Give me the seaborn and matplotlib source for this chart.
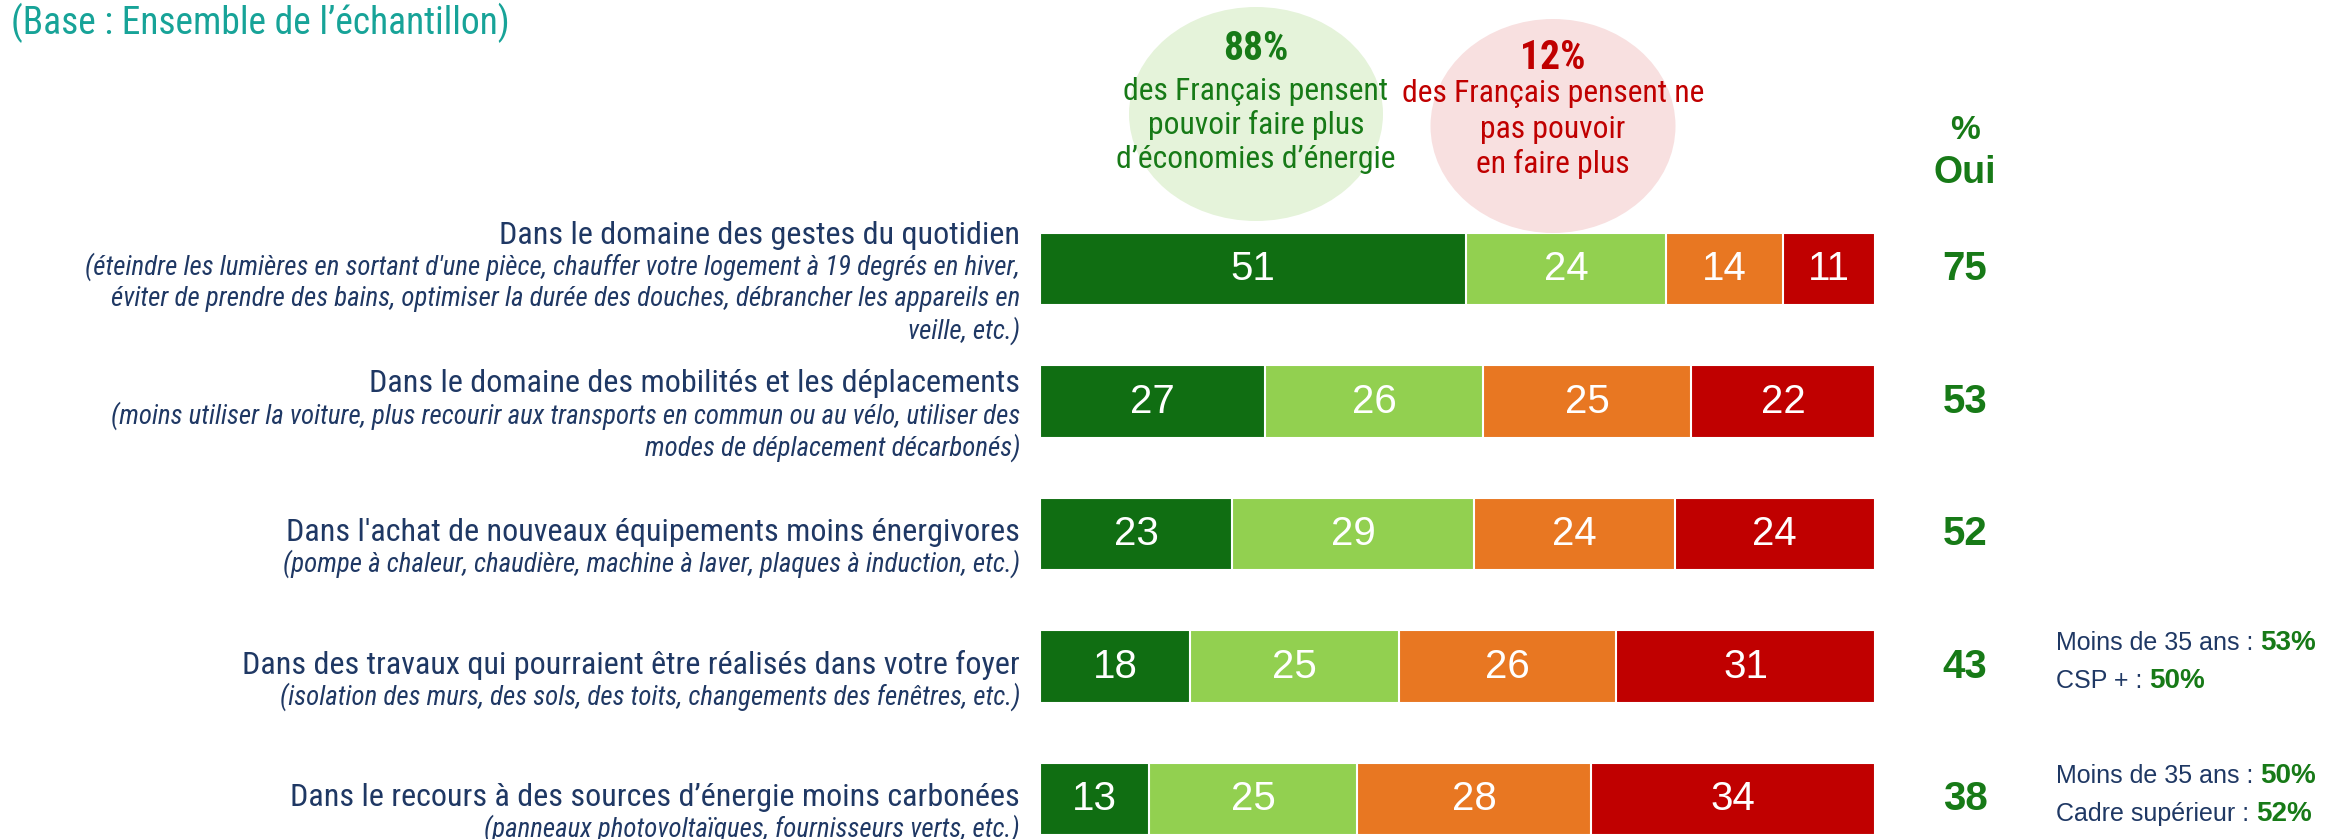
import matplotlib
matplotlib.use("Agg")
import matplotlib.pyplot as plt
from matplotlib import font_manager
from matplotlib.patches import Ellipse
import seaborn as sns
import pandas as pd

# Données
categories = ["gestes", "mobilites", "achat", "travaux", "sources"]
tout_a_fait = [51, 27, 23, 18, 13]
plutot_oui = [24, 26, 29, 25, 25]
plutot_non = [14, 25, 24, 26, 28]
pas_du_tout = [11, 22, 24, 31, 34]
pct_oui = [75, 53, 52, 43, 38]

titres = [
    "Dans le domaine des gestes du quotidien",
    "Dans le domaine des mobilités et les déplacements",
    "Dans l'achat de nouveaux équipements moins énergivores",
    "Dans des travaux qui pourraient être réalisés dans votre foyer",
    "Dans le recours à des sources d’énergie moins carbonées",
]
sous_titres = [
    ["(éteindre les lumières en sortant d'une pièce, chauffer votre logement à 19 degrés en hiver,",
     "éviter de prendre des bains, optimiser la durée des douches, débrancher les appareils en",
     "veille, etc.)"],
    ["(moins utiliser la voiture, plus recourir aux transports en commun ou au vélo, utiliser des",
     "modes de déplacement décarbonés)"],
    ["(pompe à chaleur, chaudière, machine à laver, plaques à induction, etc.)"],
    ["(isolation des murs, des sols, des toits, changements des fenêtres, etc.)"],
    ["(panneaux photovoltaïques, fournisseurs verts, etc.)"],
]
notes_rows = [3, 4]
notes_labels = [["Moins de 35 ans : ", "CSP + : "], ["Moins de 35 ans : ", "Cadre supérieur : "]]
notes_values = [["53%", "50%"], ["50%", "52%"]]

DGREEN = "#106E12"
LGREEN = "#92D050"
ORANGE = "#E87722"
RED = "#C00000"
NAVY = "#1F3864"
TEAL = "#17A398"
TXT_GREEN = "#177A17"

# police étroite si disponible
noms = {f.name for f in font_manager.fontManager.ttflist}
NARROW, STRETCH = "DejaVu Sans", "normal"
for nom in ["Liberation Sans Narrow", "Roboto Condensed", "Open Sans Condensed",
            "Noto Sans Condensed", "DejaVu Sans Condensed"]:
    if nom in noms:
        NARROW = nom
        break
else:
    if any(f.name == "DejaVu Sans" and f.stretch == "condensed" for f in font_manager.fontManager.ttflist):
        STRETCH = "condensed"
REG = "Liberation Sans"

W, H = 2343, 839
fig = plt.figure(figsize=(W / 100, H / 100), dpi=100)
ax = fig.add_axes([0, 0, 1, 1])
rend = fig.canvas.get_renderer()


def taille(chaine, largeur, **kw):
    # taille de police pour que le texte fasse la largeur voulue (px)
    t = fig.text(0, 0, chaine, fontsize=20, **kw)
    w = t.get_window_extent(rend).width
    t.remove()
    return 20 * largeur / w


N = dict(family=NARROW, stretch=STRETCH)
fs_titre = taille(titres[0], 553, **N) * 0.94
fs_sous = taille(sous_titres[0][0], 1003, style="italic", **N) * 0.93
fs_base = taille("(Base : Ensemble de l’échantillon)", 526, **N) * 0.95
fs_bulle = taille("des Français pensent", 266, **N)

df = pd.DataFrame({"cat": categories, "c1": tout_a_fait, "c2": plutot_oui,
                   "c3": plutot_non, "c4": pas_du_tout})
df["s1"] = df["c1"]
df["s2"] = df["s1"] + df["c2"]
df["s3"] = df["s2"] + df["c3"]
df["s4"] = df["s3"] + df["c4"]

for col, color in [("s4", RED), ("s3", ORANGE), ("s2", LGREEN), ("s1", DGREEN)]:
    sns.barplot(data=df, x=col, y="cat", orient="h", color=color, saturation=1,
                width=0.545, edgecolor="white", linewidth=1.5, errorbar=None, ax=ax)

# repère : 1 unité x = 8.35 px, barres à partir de x=1040 px ; lignes espacées de 132.5 px
x0, xs = 1040, 8.35
y0, ys = 269, 132.5
ax.set_xlim(-x0 / xs, (W - x0) / xs)
ax.set_ylim((H - y0) / ys, -y0 / ys)
ax.axis("off")


def px(x):
    return (x - x0) / xs


def py(y):
    return (y - y0) / ys


# valeurs dans les barres
for i in range(len(categories)):
    gauche = 0
    for v in [tout_a_fait[i], plutot_oui[i], plutot_non[i], pas_du_tout[i]]:
        ax.text(gauche + v / 2, i, str(v), ha="center", va="center", color="white",
                fontsize=29, family=REG)
        gauche += v
    ax.text(px(1965), i, str(pct_oui[i]), ha="center", va="center", color=TXT_GREEN,
            fontsize=29, family=REG, fontweight="bold")

# libellés
for i in range(len(categories)):
    lignes = [titres[i]] + sous_titres[i]
    n = len(lignes)
    for k, ligne in enumerate(lignes):
        y = i + (14 + (k - (n - 1) / 2) * 32) / ys
        if k == 0:
            ax.text(px(1020), y, ligne, ha="right", va="center", color=NAVY,
                    fontsize=fs_titre, **N)
        else:
            ax.text(px(1020), y, ligne, ha="right", va="center", color=NAVY,
                    fontsize=fs_sous, style="italic", **N)

# en-tête % Oui
ax.text(px(1965), py(130), "%", ha="center", va="center", color=TXT_GREEN,
        fontsize=24, family=REG, fontweight="bold")
ax.text(px(1965), py(173), "Oui", ha="center", va="center", color=TXT_GREEN,
        fontsize=27, family=REG, fontweight="bold")

# titre
fig.text(11 / W, 1 - 23 / H, "(Base : Ensemble de l’échantillon)", ha="left", va="center",
         color=TEAL, fontsize=fs_base, **N)

# bulles
fig.patches.append(Ellipse((1256 / W, 1 - 114 / H), 254 / W, 214 / H, transform=fig.transFigure,
                           facecolor="#E5F3DA", edgecolor="none", zorder=0))
fig.patches.append(Ellipse((1553 / W, 1 - 126 / H), 245 / W, 214 / H, transform=fig.transFigure,
                           facecolor="#F8E0E0", edgecolor="none", zorder=0))
fig.text(1256 / W, 1 - 49 / H, "88%", ha="center", va="center", color=TXT_GREEN,
         fontsize=fs_bulle * 1.25, fontweight="bold", **N)
for k, l in enumerate(["des Français pensent", "pouvoir faire plus", "d’économies d’énergie"]):
    fig.text(1256 / W, 1 - (91 + 34 * k) / H, l, ha="center", va="center", color=TXT_GREEN,
             fontsize=fs_bulle, **N)
fig.text(1553 / W, 1 - 58 / H, "12%", ha="center", va="center", color=RED,
         fontsize=fs_bulle * 1.25, fontweight="bold", **N)
for k, l in enumerate(["des Français pensent ne", "pas pouvoir", "en faire plus"]):
    fig.text(1553 / W, 1 - (94 + 35 * k) / H, l, ha="center", va="center", color=RED,
             fontsize=fs_bulle, **N)

# notes à droite
for r, labs, vals in zip(notes_rows, notes_labels, notes_values):
    for k, (lab, val) in enumerate(zip(labs, vals)):
        yy = 1 - (y0 + ys * r - 16 + 38 * k) / H
        t = fig.text(2056 / W, yy, lab, ha="left", va="baseline", color=NAVY,
                     fontsize=18, family=REG)
        bb = t.get_window_extent(rend)
        fig.text(bb.x1 / W, yy, val, ha="left", va="baseline", color=TXT_GREEN,
                 fontsize=20, family=REG, fontweight="bold")

fig.savefig("out.png", dpi=100)
